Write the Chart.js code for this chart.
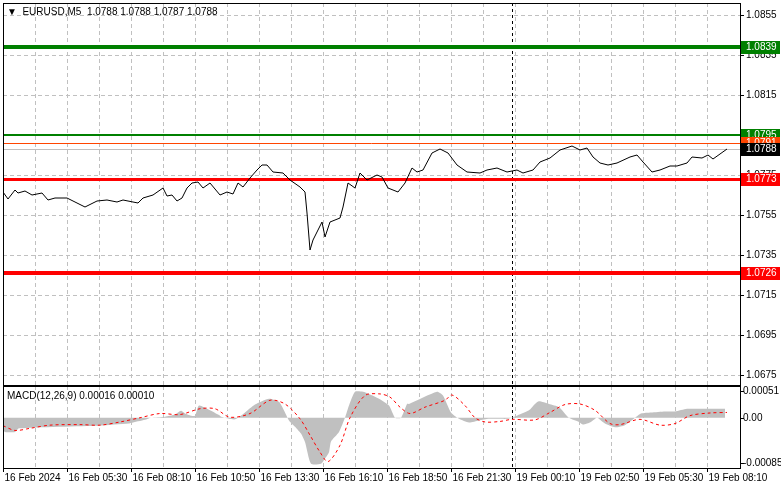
<!DOCTYPE html>
<html>
<head>
<meta charset="utf-8">
<script src="https://cdn.jsdelivr.net/npm/chart.js@4.4.1/dist/chart.umd.min.js"></script>
<style>
  body { margin: 0; background: #fff; }
  #wrap { position: relative; width: 781px; height: 489px; }
  canvas { position: absolute; left: 0; top: 0; }
</style>
</head>
<body>
<div id="wrap">
  <canvas id="price" width="781" height="489"></canvas>
  <canvas id="macd" width="781" height="489"></canvas>
</div>
<script>
// time axis is in M5 bars counted from 16 Feb 2024 03:10
var priceBars = [0,2.5,6,7.5,11,14.5,19.5,22.5,26,32,41,47,52,57,60,67.5,70,75,80,82,84.5,87,89.5,92,94.5,97.5,100,103.5,108.5,112,115,117.5,120,123.5,127,129.5,132,135,140,143.5,148.5,151,152,153.5,155,159.5,161,163.5,168.5,170,172.5,176,178.5,182,187,189.5,192.5,
  197.5,201,204.5,207,210,214.5,218.5,222.5,227,232,238.5,242,247,252,257,260,265,268.5,273.5,278.5,284.5,288.5,292,295,298.5,302.5,307,313.5,317,320,324.5,328.5,333.5,337,342,344.5,349.5,352.5,355,362];
var prices = [1.07665,1.07630,1.07675,1.07660,1.07670,1.07650,1.07660,1.07625,1.07635,1.07635,1.07590,1.07620,1.07625,1.07615,1.07625,1.07610,1.07635,1.07650,1.07685,1.07645,1.07650,1.07620,1.07635,1.07685,1.07710,1.07715,1.07685,1.07710,1.07650,1.07665,1.07655,1.07710,1.07690,1.07735,1.07775,1.07800,1.07800,1.07765,1.07760,1.07725,1.07690,1.07665,1.07560,1.07375,1.07425,1.07515,1.07440,1.07515,1.07535,1.07590,1.07710,1.07685,1.07760,1.07725,1.07750,1.07740,1.07685,
  1.07665,1.07710,1.07785,1.07765,1.07775,1.07860,1.07880,1.07860,1.07800,1.07765,1.07760,1.07775,1.07785,1.07765,1.07775,1.07760,1.07775,1.07815,1.07835,1.07875,1.07895,1.07875,1.07885,1.07840,1.07810,1.07800,1.07810,1.07840,1.07850,1.07815,1.07765,1.07775,1.07795,1.07795,1.07810,1.07840,1.07835,1.07850,1.07830,1.07880];

var histBars = [0,1,6,8,48,48,63,64,71,74,81,86,89,91,94,96,98,103,108,109,116,121,126,133,138,141,143,146,149,151,154,159,161,163,164,168,171,173,176,180,183,188,193,196,199,202,203,217,220,224,228,233,238,243,248,252,257,263,266,268,273,278,283,288,290,294,297,301,306,311,316,319,324,331,336,342,348,354,361];
var histVals = [-0.00022,-0.00027,-0.00027,-0.00020,-0.00015,-0.00015,-0.00011,-0.00010,-0.00004,0.00000,0.00002,0.00006,0.00013,0.00008,0.00004,0.00004,0.00023,0.00015,0.00005,0.00002,-0.00003,0.00010,0.00025,0.00036,0.00030,0.00010,-0.00005,-0.00017,-0.00030,-0.00046,-0.00087,-0.00087,-0.00077,-0.00065,-0.00045,-0.00027,0.00000,0.00023,0.00049,0.00049,0.00045,0.00036,0.00023,0.00000,0.00000,0.00026,0.00026,0.00049,0.00042,0.00010,-0.00002,-0.00009,-0.00005,-0.00002,-0.00002,-0.00002,0.00004,0.00014,0.00026,0.00031,0.00026,0.00020,0.00000,-0.00008,-0.00013,-0.00008,0.00000,-0.00011,-0.00018,-0.00014,0.00000,0.00008,0.00010,0.00012,0.00012,0.00017,0.00017,0.00017,0.00017];

var sigBars = [0,6,13.5,23.5,38.5,48.5,58.5,68.5,78.5,88.5,98.5,106,113.5,123.5,133.5,141,148.5,153.5,158.5,162.5,168.5,173.5,181,188.5,193.5,198.5,203.5,211,221,224.5,231,236,241,248.5,254.5,266,273.5,281,288.5,296,303.5,308.5,318.5,328.5,336,343.5,353.5,362];
var sigVals = [-0.00015,-0.00024,-0.00020,-0.00014,-0.00013,-0.00014,-0.00008,0.00000,0.00008,0.00006,0.00017,0.00017,0.00001,0.00008,0.00033,0.00026,-0.00002,-0.00033,-0.00065,-0.00083,-0.00052,0.00000,0.00042,0.00045,0.00039,0.00020,0.00008,0.00020,0.00033,0.00043,0.00023,0.00000,-0.00008,-0.00007,-0.00003,-0.00004,0.00010,0.00025,0.00026,0.00014,-0.00011,-0.00013,-0.00003,-0.00014,-0.00011,0.00004,0.00009,0.00010];

var timeTicks = [0,32,64,96,128,160,192,224,256,288,320,352];
var timeLabels = ['16 Feb 2024','16 Feb 05:30','16 Feb 08:10','16 Feb 10:50','16 Feb 13:30','16 Feb 16:10','16 Feb 18:50','16 Feb 21:30','19 Feb 00:10','19 Feb 02:50','19 Feb 05:30','19 Feb 08:10'];
var priceTicks = [1.0855,1.0835,1.0815,1.0795,1.0775,1.0755,1.0735,1.0715,1.0695,1.0675];
var macdTicks = [0.00051,0,-0.00085];
var macdTickLabels = ['0.00051','0.00','-0.00085'];
var dayBreak = 254.5;

var levelVals = [1.0839,1.0795,1.0791,1.0788,1.0773,1.0726];
var levelColors = ['#008000','#008000','#ff4500','#c0c0c0','#ff0000','#ff0000'];
var levelWidths = [4,2,1,1,3,4];
var levelLabelBg = ['#008000','#008000','#ff4500','#000000','#ff0000','#ff0000'];

var FONT = '10px "Liberation Sans", Arial, sans-serif';
var XMAX = 368.5;

function xy(xs, ys) { return xs.map(function (x, i) { return {x: x, y: ys[i]}; }); }

function drawGrid(chart, yTicks) {
  var c = chart.ctx, a = chart.chartArea, xs = chart.scales.x, ys = chart.scales.y;
  c.save();
  c.strokeStyle = '#c0c0c0'; c.lineWidth = 1; c.setLineDash([4, 3]);
  for (var t = 16; t < XMAX - 4; t += 16) {
    var px = Math.round(xs.getPixelForValue(t)) + 0.5;
    c.beginPath(); c.moveTo(px, a.top); c.lineTo(px, a.bottom); c.stroke();
  }
  yTicks.forEach(function (v) {
    var py = Math.round(ys.getPixelForValue(v)) + 0.5;
    c.beginPath(); c.moveTo(a.left, py); c.lineTo(a.right, py); c.stroke();
  });
  c.strokeStyle = '#000'; c.setLineDash([3, 3]);
  var bx = Math.round(xs.getPixelForValue(dayBreak)) + 0.5;
  c.beginPath(); c.moveTo(bx, a.top); c.lineTo(bx, a.bottom); c.stroke();
  c.restore();
}

function drawFrame(chart) {
  var c = chart.ctx, a = chart.chartArea;
  c.save(); c.strokeStyle = '#000'; c.lineWidth = 1; c.setLineDash([]);
  c.strokeRect(a.left + 0.5, a.top + 0.5, a.right - a.left, a.bottom - a.top);
  c.restore();
}

var pricePlugin = {
  id: 'pricePlugin',
  beforeDatasetsDraw: function (chart) {
    drawGrid(chart, priceTicks);
    var c = chart.ctx, a = chart.chartArea, ys = chart.scales.y;
    c.save();
    levelVals.forEach(function (v, i) {
      var py = Math.round(ys.getPixelForValue(v)) + (levelWidths[i] % 2 ? 0.5 : 0);
      c.strokeStyle = levelColors[i]; c.lineWidth = levelWidths[i];
      c.beginPath(); c.moveTo(a.left, py); c.lineTo(a.right, py); c.stroke();
    });
    c.restore();
  },
  afterDraw: function (chart) {
    var c = chart.ctx, a = chart.chartArea, ys = chart.scales.y;
    drawFrame(chart);
    c.save();
    c.font = FONT; c.textBaseline = 'middle'; c.fillStyle = '#000';
    priceTicks.forEach(function (v) {
      var py = Math.round(ys.getPixelForValue(v)) + 0.5;
      c.beginPath(); c.moveTo(a.right, py); c.lineTo(a.right + 4, py); c.stroke();
      c.fillText(v.toFixed(4), a.right + 6, py);
    });
    levelVals.forEach(function (v, i) {
      var py = Math.round(ys.getPixelForValue(v));
      c.fillStyle = levelLabelBg[i];
      c.fillRect(a.right + 1, py - 6, 39, 13);
      c.fillStyle = '#fff';
      c.fillText(v.toFixed(4), a.right + 6, py + 0.5);
    });
    c.fillStyle = '#000';
    c.fillText('\u25BC  EURUSD,M5  1.0788 1.0788 1.0787 1.0788', a.left + 4, a.top + 9);
    c.restore();
  }
};

var macdPlugin = {
  id: 'macdPlugin',
  beforeDatasetsDraw: function (chart) { drawGrid(chart, []); },
  afterDraw: function (chart) {
    var c = chart.ctx, a = chart.chartArea, xs = chart.scales.x, ys = chart.scales.y;
    drawFrame(chart);
    c.save();
    c.font = FONT; c.fillStyle = '#000'; c.strokeStyle = '#000';
    c.textBaseline = 'middle';
    macdTicks.forEach(function (v, i) {
      var py = Math.round(ys.getPixelForValue(v)) + 0.5;
      c.beginPath(); c.moveTo(a.right, py); c.lineTo(a.right + 4, py); c.stroke();
      c.fillText(macdTickLabels[i], a.right + 3, py);
    });
    c.fillText('MACD(12,26,9) 0.00016 0.00010', a.left + 4, a.top + 10);
    c.textBaseline = 'alphabetic';
    timeTicks.forEach(function (t, i) {
      var px = Math.round(xs.getPixelForValue(t)) + 0.5;
      c.beginPath(); c.moveTo(px, a.bottom); c.lineTo(px, a.bottom + 4); c.stroke();
      c.fillText(timeLabels[i], px + 1, a.bottom + 13);
    });
    c.restore();
  }
};

var xScale = {type: 'linear', min: 0, max: XMAX, display: false};

new Chart(document.getElementById('price'), {
  type: 'line',
  data: { datasets: [{ data: xy(priceBars, prices), borderColor: '#000', borderWidth: 1, pointRadius: 0, tension: 0 }] },
  options: {
    responsive: false, animation: false, devicePixelRatio: 1,
    layout: { padding: { left: 3, top: 3, right: 41, bottom: 104 } },
    plugins: { legend: { display: false }, tooltip: { enabled: false } },
    scales: { x: xScale, y: { min: 1.06700, max: 1.08610, display: false } }
  },
  plugins: [pricePlugin]
});

new Chart(document.getElementById('macd'), {
  type: 'line',
  data: { datasets: [
    { data: xy(histBars, histVals), borderWidth: 0, borderColor: 'rgba(0,0,0,0)', backgroundColor: '#c0c0c0', fill: 'origin', pointRadius: 0, tension: 0.2, order: 2 },
    { data: xy(sigBars, sigVals), borderColor: '#ff0000', borderWidth: 1, borderDash: [3, 3], pointRadius: 0, tension: 0.3, order: 1 }
  ] },
  options: {
    responsive: false, animation: false, devicePixelRatio: 1,
    layout: { padding: { left: 3, top: 386, right: 41, bottom: 21 } },
    plugins: { legend: { display: false }, tooltip: { enabled: false } },
    scales: { x: xScale, y: { min: -0.00095, max: 0.00060, display: false } }
  },
  plugins: [macdPlugin]
});
</script>
</body>
</html>
